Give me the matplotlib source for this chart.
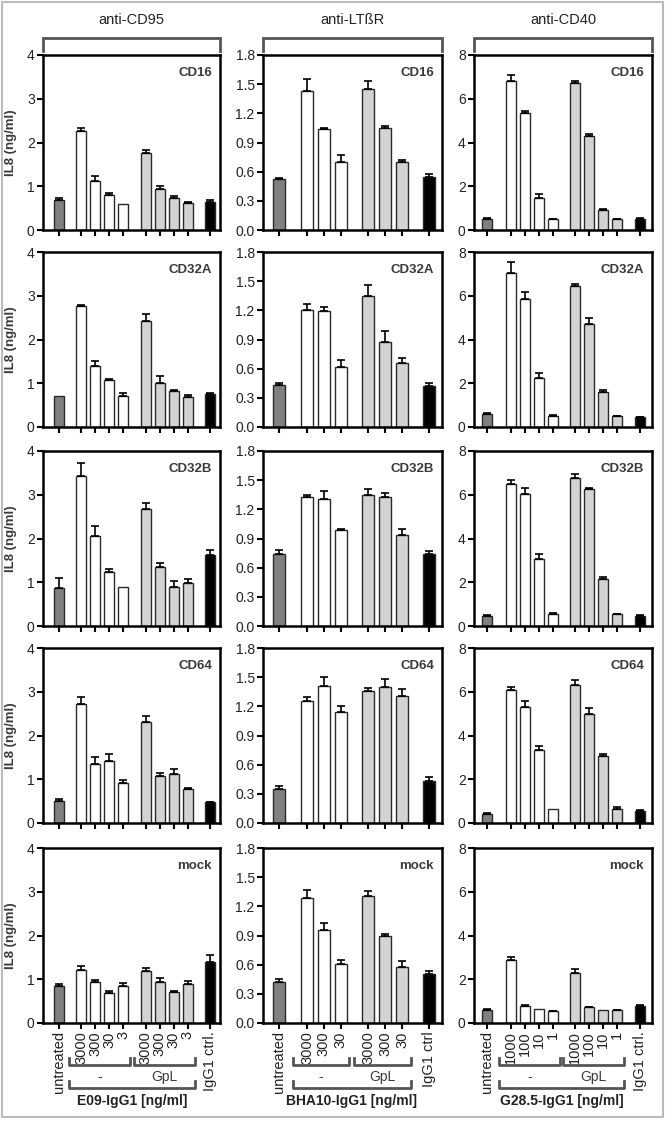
import numpy as np
import matplotlib
matplotlib.use("Agg")
import matplotlib.pyplot as plt
from matplotlib.transforms import blended_transform_factory

plt.rcParams['font.family'] = ['Liberation Sans', 'DejaVu Sans']

# Etiquetas
receptors = ["CD16", "CD32A", "CD32B", "CD64", "mock"]
headers = ["anti-CD95", "anti-LTßR", "anti-CD40"]
xlabels = ["E09-IgG1 [ng/ml]", "BHA10-IgG1 [ng/ml]", "G28.5-IgG1 [ng/ml]"]

cd95_ticks = ["untreated", "3000", "300", "30", "3", "3000", "300", "30", "3", "IgG1 ctrl."]
ltbr_ticks = ["untreated", "3000", "300", "30", "3000", "300", "30", "IgG1 ctrl"]
cd40_ticks = ["untreated", "1000", "100", "10", "1", "1000", "100", "10", "1", "IgG1 ctrl."]

# IL8 (ng/ml), una fila por receptor
cd95_mean = [
    [0.68, 2.27, 1.12, 0.80, 0.60, 1.77, 0.94, 0.74, 0.62, 0.64],
    [0.71, 2.77, 1.40, 1.07, 0.70, 2.42, 1.01, 0.82, 0.68, 0.75],
    [0.88, 3.43, 2.05, 1.24, 0.90, 2.67, 1.35, 0.89, 0.98, 1.63],
    [0.50, 2.72, 1.34, 1.42, 0.92, 2.30, 1.07, 1.11, 0.77, 0.47],
    [0.84, 1.22, 0.94, 0.69, 0.85, 1.18, 0.94, 0.72, 0.90, 1.40],
]
cd95_err = [
    [0.05, 0.06, 0.12, 0.05, 0.00, 0.06, 0.06, 0.03, 0.02, 0.04],
    [0.00, 0.03, 0.10, 0.03, 0.08, 0.17, 0.16, 0.03, 0.05, 0.03],
    [0.21, 0.29, 0.24, 0.07, 0.00, 0.14, 0.08, 0.14, 0.10, 0.11],
    [0.04, 0.17, 0.17, 0.16, 0.06, 0.14, 0.07, 0.12, 0.04, 0.02],
    [0.05, 0.09, 0.05, 0.05, 0.07, 0.07, 0.09, 0.01, 0.07, 0.16],
]
ltbr_mean = [
    [0.525, 1.43, 1.04, 0.70, 1.45, 1.05, 0.70, 0.55],
    [0.43, 1.20, 1.19, 0.62, 1.35, 0.87, 0.655, 0.42],
    [0.745, 1.33, 1.31, 0.99, 1.35, 1.33, 0.94, 0.74],
    [0.35, 1.26, 1.41, 1.14, 1.36, 1.40, 1.31, 0.43],
    [0.42, 1.29, 0.96, 0.61, 1.31, 0.90, 0.58, 0.50],
]
ltbr_err = [
    [0.01, 0.12, 0.01, 0.07, 0.08, 0.02, 0.02, 0.03],
    [0.025, 0.07, 0.04, 0.07, 0.11, 0.12, 0.055, 0.03],
    [0.035, 0.02, 0.08, 0.01, 0.06, 0.04, 0.06, 0.03],
    [0.03, 0.04, 0.09, 0.06, 0.03, 0.08, 0.07, 0.04],
    [0.03, 0.08, 0.07, 0.04, 0.05, 0.02, 0.06, 0.03],
]
cd40_mean = [
    [0.50, 6.83, 5.37, 1.46, 0.49, 6.70, 4.31, 0.90, 0.49, 0.52],
    [0.60, 7.05, 5.83, 2.22, 0.50, 6.45, 4.70, 1.62, 0.50, 0.46],
    [0.46, 6.48, 6.04, 3.05, 0.56, 6.76, 6.28, 2.16, 0.53, 0.47],
    [0.43, 6.09, 5.30, 3.34, 0.64, 6.32, 4.97, 3.05, 0.64, 0.55],
    [0.60, 2.90, 0.76, 0.65, 0.55, 2.29, 0.72, 0.58, 0.58, 0.78],
]
cd40_err = [
    [0.03, 0.25, 0.05, 0.20, 0.03, 0.10, 0.08, 0.04, 0.02, 0.03],
    [0.03, 0.50, 0.33, 0.27, 0.03, 0.08, 0.28, 0.08, 0.02, 0.02],
    [0.03, 0.20, 0.27, 0.23, 0.03, 0.20, 0.03, 0.08, 0.02, 0.02],
    [0.03, 0.12, 0.30, 0.20, 0.00, 0.24, 0.30, 0.10, 0.08, 0.03],
    [0.02, 0.10, 0.05, 0.00, 0.02, 0.17, 0.02, 0.00, 0.02, 0.04],
]

# Ejes y
y_max = [4, 1.8, 8]
y_ticks = [[0, 1, 2, 3, 4],
           [0.0, 0.3, 0.6, 0.9, 1.2, 1.5, 1.8],
           [0, 2, 4, 6, 8]]
y_fmt = ["{:.0f}", "{:.1f}", "{:.0f}"]

# Layout (pixeles de la figura 666x1123)
W, H = 666, 1123
col_x0 = [43, 263, 474]
col_x1 = [220, 442, 652]
row_top = [55, 252, 451, 648, 848]
panel_h = 175

pos_cols = [
    [0, 1.6, 2.6, 3.6, 4.6, 6.2, 7.2, 8.2, 9.2, 10.8],
    [0, 1.65, 2.65, 3.65, 5.25, 6.25, 7.25, 8.85],
    [0, 1.7, 2.7, 3.7, 4.7, 6.3, 7.3, 8.3, 9.3, 10.95],
]
xlims = [(-1.14, 11.5), (-0.94, 9.6), (-0.93, 11.8)]

c_untr = "#808080"
c_minus = "white"
c_gpl = "#d3d3d3"
c_ctrl = "black"
txt_gray = "#3a3a3a"
bracket_gray = "#555555"

fig = plt.figure(figsize=(W / 100, H / 100), dpi=100)

# overlay en pixeles para corchetes y marco
ov = fig.add_axes([0, 0, 1, 1], zorder=5)
ov.set_xlim(0, W)
ov.set_ylim(H, 0)
ov.axis("off")
ov.plot([1.5, W - 3, W - 3, 1.5, 1.5], [1.5, 1.5, H - 6, H - 6, 1.5],
        color="#bbbbbb", lw=1.5)

means_all = [cd95_mean, ltbr_mean, cd40_mean]
errs_all = [cd95_err, ltbr_err, cd40_err]
ticks_all = [cd95_ticks, ltbr_ticks, cd40_ticks]

for c in range(3):
    pos = np.array(pos_cols[c])
    n = len(pos)
    half = (n - 2) // 2
    colors = [c_untr] + [c_minus] * half + [c_gpl] * half + [c_ctrl]

    # encabezado
    x0, x1 = col_x0[c], col_x1[c]
    ov.text((x0 + x1) / 2, 20, headers[c], ha="center", va="center",
            fontsize=10.5, color="#222222")
    ov.plot([x0, x0, x1, x1], [51, 38, 38, 51], color=bracket_gray, lw=2,
            solid_joinstyle="miter")

    for r in range(5):
        left = x0 / W
        bottom = 1 - (row_top[r] + panel_h) / H
        ax = fig.add_axes([left, bottom, (x1 - x0) / W, panel_h / H])
        m = np.array(means_all[c][r])
        e = np.array(errs_all[c][r])

        ax.bar(pos, m, width=0.7, color=colors, edgecolor="#2a2a2a",
               linewidth=1.0, zorder=2)
        ok = e > 0
        ax.errorbar(pos[ok], m[ok], yerr=[np.zeros(ok.sum()), e[ok]], fmt="none",
                    ecolor="black", elinewidth=1.2, capsize=2.8, capthick=1.2,
                    zorder=3)

        ax.set_xlim(*xlims[c])
        ax.set_ylim(0, y_max[c])
        ax.set_yticks(y_ticks[c])
        ax.set_yticklabels([y_fmt[c].format(v) for v in y_ticks[c]],
                           fontsize=10, color="#222222")
        ax.set_xticks(pos)
        for s in ax.spines.values():
            s.set_linewidth(1.8)
            s.set_color("black")
        ax.tick_params(axis="both", direction="out", length=4, width=1.5,
                       pad=2)
        ax.text(0.955, 0.93, receptors[r], transform=ax.transAxes,
                ha="right", va="top", fontsize=9.5, fontweight="bold",
                color=txt_gray)

        if c == 0:
            ax.set_ylabel("IL8 (ng/ml)", fontsize=9.5, fontweight="bold",
                          color=txt_gray)
            ax.yaxis.set_label_coords(-0.145, 0.5)

        if r == 4:
            ax.set_xticklabels(ticks_all[c], rotation=90, fontsize=10.5,
                               color="#222222")
            tr = blended_transform_factory(ax.transData, ov.transData)
            g1 = pos[1:1 + half]
            g2 = pos[1 + half:1 + 2 * half]
            b1 = (g1[0] - 0.85, g1[-1] + 0.5)
            b2 = (g2[0] - 0.85, g2[-1] + 0.5)
            for a, b in (b1, b2):
                ax.plot([a, a, b, b], [1058, 1065, 1065, 1058], color=bracket_gray,
                        lw=2, transform=tr, clip_on=False)
            ax.text(np.mean(b1), 1077, "-", transform=tr, ha="center",
                    va="center", fontsize=10, color=txt_gray)
            ax.text(np.mean(b2), 1077, "GpL", transform=tr, ha="center",
                    va="center", fontsize=10, color=txt_gray)
            ax.plot([b1[0], b1[0], b2[1], b2[1]], [1081, 1088, 1088, 1081],
                    color=bracket_gray, lw=2, transform=tr, clip_on=False)
            ax.text((b1[0] + b2[1]) / 2, 1101, xlabels[c], transform=tr,
                    ha="center", va="center", fontsize=10, fontweight="bold",
                    color="#222222")
        else:
            ax.set_xticklabels([])

fig.savefig("out.png", dpi=100)
